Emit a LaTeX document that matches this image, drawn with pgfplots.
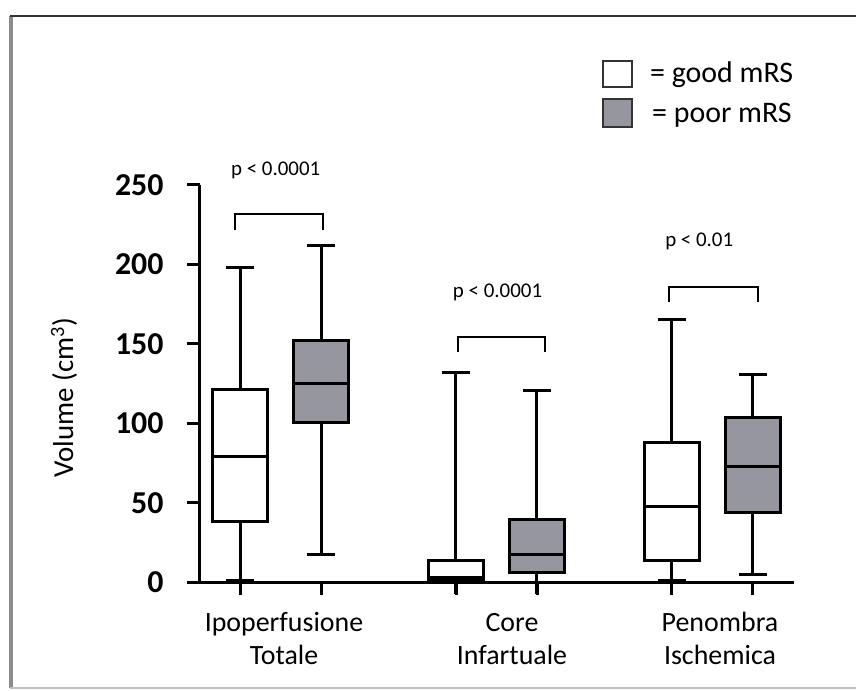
\documentclass[border=0pt]{standalone}
\usepackage{fontspec}
\setmainfont{Carlito}
\usepackage{pgfplots}
\pgfplotsset{compat=1.18}
\definecolor{boxgray}{RGB}{150,150,159}
\pgfplotsset{bx/.style={draw=black, line width=3bp, mark=none}}
\begin{document}
\begin{tikzpicture}
\begin{axis}[
  at={(0,0)}, anchor=south west,
  width=594bp, height=397.3bp, scale only axis,
  xmin=-0.494, xmax=6.84, ymin=0, ymax=250,
  axis x line=bottom, axis y line=left,
  axis line style={line width=3bp, -},
  ytick={0,50,100,150,200,250},
  xtick={0,1,2.6667,3.6667,5.3333,6.3333}, xticklabels={},
  tick align=outside, major tick length=12bp,
  every tick/.style={line width=3bp, black},
  yticklabel style={font=\fontsize{32}{38}\selectfont\bfseries, xshift=-21bp},
  /pgf/number format/assume math mode=true,
  clip=false, unbounded coords=jump,
]
% ---- whiskers (min / max) ----
\addplot[bx] coordinates {(0,121.5) (0,198.3) (nan,nan) (-0.175,198.3) (0.175,198.3) (nan,nan) (0,38.1) (0,1) (nan,nan) (-0.175,1) (0.175,1)};
\addplot[bx] coordinates {(1,152) (1,211.8) (nan,nan) (0.825,211.8) (1.175,211.8) (nan,nan) (1,100.4) (1,17.2) (nan,nan) (0.825,17.2) (1.175,17.2)};
\addplot[bx] coordinates {(2.6667,13.6) (2.6667,131.9) (nan,nan) (2.4917,131.9) (2.8417,131.9) (nan,nan) (2.6667,1) (2.6667,0)};
\addplot[bx] coordinates {(3.6667,39.6) (3.6667,121) (nan,nan) (3.4917,121) (3.8417,121) (nan,nan) (3.6667,6) (3.6667,0.5)};
\addplot[bx] coordinates {(5.3333,87.9) (5.3333,165.5) (nan,nan) (5.1583,165.5) (5.5083,165.5) (nan,nan) (5.3333,14) (5.3333,1) (nan,nan) (5.1583,1) (5.5083,1)};
\addplot[bx] coordinates {(6.3333,103.6) (6.3333,130.9) (nan,nan) (6.1583,130.9) (6.5083,130.9) (nan,nan) (6.3333,43.8) (6.3333,4.6) (nan,nan) (6.1583,4.6) (6.5083,4.6)};
% ---- boxes (Q1 to Q3) ----
\addplot[bx, fill=white]   coordinates {(-0.34,38.1) (0.34,38.1) (0.34,121.5) (-0.34,121.5)} -- cycle;
\addplot[bx, fill=boxgray] coordinates {(0.66,100.4) (1.34,100.4) (1.34,152) (0.66,152)} -- cycle;
\addplot[bx, fill=white]   coordinates {(2.3267,1) (3.0067,1) (3.0067,13.6) (2.3267,13.6)} -- cycle;
\addplot[bx, fill=boxgray] coordinates {(3.3267,6) (4.0067,6) (4.0067,39.6) (3.3267,39.6)} -- cycle;
\addplot[bx, fill=white]   coordinates {(4.9933,14) (5.6733,14) (5.6733,87.9) (4.9933,87.9)} -- cycle;
\addplot[bx, fill=boxgray] coordinates {(5.9933,43.8) (6.6733,43.8) (6.6733,103.6) (5.9933,103.6)} -- cycle;
% ---- medians ----
\addplot[bx] coordinates {(-0.34,79) (0.34,79)};
\addplot[bx] coordinates {(0.66,124.8) (1.34,124.8)};
\addplot[bx] coordinates {(2.3267,3.1) (3.0067,3.1)};
\addplot[bx] coordinates {(3.3267,17.8) (4.0067,17.8)};
\addplot[bx] coordinates {(4.9933,48) (5.6733,48)};
\addplot[bx] coordinates {(5.9933,72.8) (6.6733,72.8)};
% ---- significance brackets ----
\addplot[draw=black, line width=2bp, mark=none] coordinates {(-0.06,221.7) (-0.06,231.5) (1.025,231.5) (1.025,221.7)};
\addplot[draw=black, line width=2bp, mark=none] coordinates {(2.69,145.1) (2.69,154.6) (3.77,154.6) (3.77,145.1)};
\addplot[draw=black, line width=2bp, mark=none] coordinates {(5.30,176.6) (5.30,186) (6.40,186) (6.40,176.6)};
\node[font=\fontsize{21}{25}\selectfont] at (axis cs:0.44,259.4) {p < 0.0001};
\node[font=\fontsize{21}{25}\selectfont] at (axis cs:3.18,182.2) {p < 0.0001};
\node[font=\fontsize{21}{25}\selectfont] at (axis cs:5.67,214.3) {p < 0.01};
\end{axis}
\begin{scope}[x=1bp, y=1bp]
% outside tick marks
\foreach \tx in {40.0,121.0,256.0,337.0,471.9,552.9} {
  \draw[line width=3bp, black] (\tx,0) -- (\tx,-13);
}
\foreach \ty in {0,79.46,158.92,238.38,317.84,397.3} {
  \draw[line width=3bp, black] (0,\ty) -- (-13,\ty);
}
% category labels
\node[anchor=base, inner sep=0pt, font=\fontsize{28}{33}\selectfont] at (84,-49.2) {Ipoperfusione};
\node[anchor=base, inner sep=0pt, font=\fontsize{28}{33}\selectfont] at (84,-82) {Totale};
\node[anchor=base, inner sep=0pt, font=\fontsize{28}{33}\selectfont] at (312,-49.2) {Core};
\node[anchor=base, inner sep=0pt, font=\fontsize{28}{33}\selectfont] at (312,-82) {Infartuale};
\node[anchor=base, inner sep=0pt, font=\fontsize{28}{33}\selectfont] at (520,-49.2) {Penombra};
\node[anchor=base, inner sep=0pt, font=\fontsize{28}{33}\selectfont] at (520,-82) {Ischemica};
% y label
\node[rotate=90, inner sep=0pt, font=\fontsize{29}{34}\selectfont] at (-136,184.6) {Volume (cm\textsuperscript{3})};
% legend
\draw[line width=2bp, black!80, fill=white] (403,495.3) rectangle (432,521.3);
\draw[line width=2bp, black!80, fill=boxgray] (403,455.3) rectangle (432,483.3);
\node[anchor=west, inner sep=0pt, font=\fontsize{30}{35}\selectfont] at (450,507.3) {= good mRS};
\node[anchor=west, inner sep=0pt, font=\fontsize{30}{35}\selectfont] at (452,467.3) {= poor mRS};
% frame
\draw[line width=3.5bp, black!45] (-189,-105.7) -- (-189,566.3);
\draw[line width=2.5bp, black!80] (-190,566.3) -- (656,566.3);
\draw[line width=2.5bp, black!25] (-190,-105.7) -- (656,-105.7);
\end{scope}
\pgfresetboundingbox
\useasboundingbox (-200bp,-108.7bp) rectangle (656bp,582.3bp);
\end{tikzpicture}
\end{document}
